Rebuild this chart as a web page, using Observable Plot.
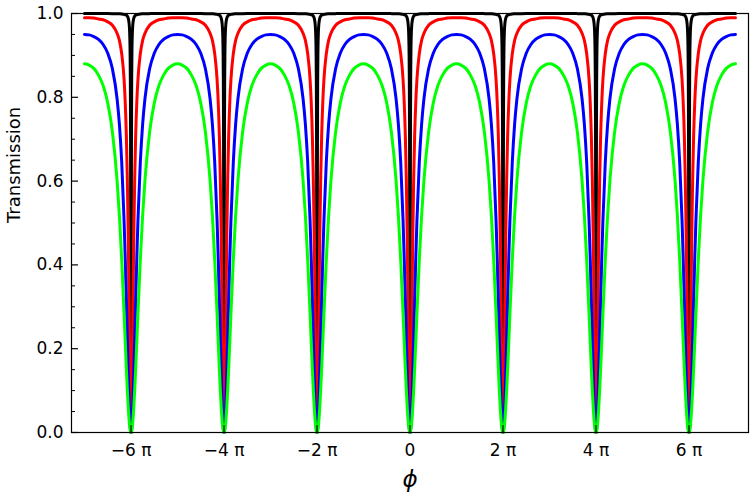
<!DOCTYPE html>
<html>
<head>
<meta charset="utf-8">
<script src="https://cdn.jsdelivr.net/npm/d3@7"></script>
<script src="https://cdn.jsdelivr.net/npm/@observablehq/plot@0.6"></script>
<style>
  html, body { margin: 0; padding: 0; background: #fff; }
  #chart { width: 750px; height: 498px; }
</style>
</head>
<body>
<div id="chart"></div>
<script>
// Phase offset from a transmission dip, in units of π (half a period, 0 → 1)
const offsets = [0, 0.005, 0.01, 0.015, 0.02, 0.03, 0.04, 0.05, 0.06, 0.08, 0.1, 0.125, 0.15,
                 0.2, 0.25, 0.3, 0.4, 0.5, 0.6, 0.7, 0.8, 0.9, 1.0];

// Transmission at each offset, one list per curve (each dip is symmetric)
const blackT = [0, 0.382, 0.712, 0.847, 0.908, 0.957, 0.975, 0.984, 0.989, 0.994, 0.996, 0.997, 0.998,
                0.999, 0.9993, 0.9995, 0.9997, 0.9998, 0.9998, 0.9999, 0.9999, 0.9999, 0.9999];
const redT   = [0, 0.006, 0.024, 0.052, 0.089, 0.180, 0.281, 0.379, 0.467, 0.609, 0.708, 0.790, 0.844,
                0.904, 0.936, 0.953, 0.972, 0.980, 0.985, 0.987, 0.989, 0.990, 0.990];
const blueT  = [0, 0.001, 0.005, 0.010, 0.018, 0.041, 0.070, 0.105, 0.144, 0.230, 0.317, 0.420, 0.509,
                0.645, 0.736, 0.797, 0.868, 0.905, 0.926, 0.938, 0.945, 0.949, 0.950];
const greenT = [0, 0.0005, 0.002, 0.004, 0.007, 0.016, 0.028, 0.043, 0.061, 0.103, 0.152, 0.218, 0.286,
                0.412, 0.518, 0.602, 0.717, 0.786, 0.828, 0.853, 0.869, 0.877, 0.880];

// Dip positions (multiples of π) and axis ticks
const dipCenters = [-6, -4, -2, 0, 2, 4, 6];
const xTicks = [-6, -4, -2, 0, 2, 4, 6];
const yMajor = [0, 0.2, 0.4, 0.6, 0.8, 1.0];
const yMinor = [0.05, 0.1, 0.15, 0.25, 0.3, 0.35, 0.45, 0.5, 0.55, 0.65, 0.7, 0.75, 0.85, 0.9, 0.95];

// Unroll each curve across all periods: left half of each dip mirrored, then right half
function unroll(values) {
  const pts = [];
  dipCenters.forEach((c, i) => {
    for (let k = offsets.length - 1; k >= 1; k--) {
      if (i > 0 && k === offsets.length - 1) continue; // shared with previous period's end
      pts.push({phi: c - offsets[k], T: values[k]});
    }
    for (let k = 0; k < offsets.length; k++) pts.push({phi: c + offsets[k], T: values[k]});
  });
  return pts;
}

const W = 750, H = 498;
const mL = 71, mR = 2, mT = 13, mB = 66;
const xDomain = [-7.28, 7.28];
const yDomain = [0, 1];
const pxPerX = (W - mL - mR) / (xDomain[1] - xDomain[0]);
const pxPerY = (H - mT - mB) / (yDomain[1] - yDomain[0]);

const piLabel = k => k === 0 ? "0" : `${k < 0 ? "\u2212" : ""}${Math.abs(k)} \u03C0`;

const lineOpts = {x: "phi", y: "T", strokeWidth: 3, curve: "monotone-x", strokeLinejoin: "round"};

const chart = Plot.plot({
  width: W,
  height: H,
  marginLeft: mL,
  marginRight: mR,
  marginTop: mT,
  marginBottom: mB,
  style: {fontFamily: "'DejaVu Sans', sans-serif", fontSize: "17px", color: "#000", background: "#fff"},
  x: {domain: xDomain, ticks: xTicks, tickFormat: piLabel, tickSize: 0, tickPadding: 11, label: null},
  y: {domain: yDomain, ticks: yMajor, tickFormat: d => d.toFixed(1), tickSize: 0, tickPadding: 8, label: null},
  marks: [
    Plot.line(unroll(blackT), {...lineOpts, stroke: "#000000"}),
    Plot.line(unroll(redT), {...lineOpts, stroke: "#ff0000"}),
    Plot.line(unroll(blueT), {...lineOpts, stroke: "#0000ff"}),
    Plot.line(unroll(greenT), {...lineOpts, stroke: "#00ff00"}),
    Plot.frame({stroke: "#000", strokeWidth: 1.2}),
    // inward ticks on the left and bottom edges
    Plot.ruleY(yMajor, {x1: xDomain[0], x2: xDomain[0] + 7 / pxPerX, stroke: "#000", strokeWidth: 1.2}),
    Plot.ruleY(yMinor, {x1: xDomain[0], x2: xDomain[0] + 4 / pxPerX, stroke: "#000", strokeWidth: 1}),
    Plot.ruleX(xTicks, {y1: yDomain[0], y2: yDomain[0] + 7 / pxPerY, stroke: "#000", strokeWidth: 1.2}),
    Plot.text(["Transmission"], {frameAnchor: "left", dx: -57, rotate: -90, fontSize: 18, fill: "#000"}),
    Plot.text(["\u03D5"], {frameAnchor: "bottom", dy: 54, fontSize: 23, fontStyle: "italic", fill: "#000"})
  ]
});

document.getElementById("chart").appendChild(chart);
</script>
</body>
</html>
